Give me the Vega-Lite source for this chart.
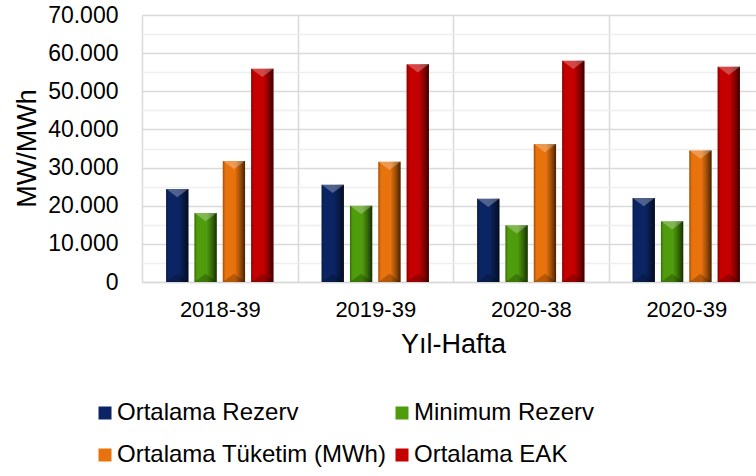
{
  "$schema": "https://vega.github.io/schema/vega-lite/v6.json",
  "autosize": "none",
  "padding": {"left": 142, "top": 15, "right": 0, "bottom": 194},
  "width": 614,
  "height": 267,
  "background": "white",
  "config": {
    "font": "Liberation Sans",
    "view": {"stroke": null},
    "axis": {"labelColor": "#000", "titleColor": "#000", "labelFont": "Liberation Sans", "titleFont": "Liberation Sans", "titleFontWeight": "normal"},
    "legend": {"labelFont": "Liberation Sans", "labelColor": "#000"}
  },
  "data": {
    "values": [
      {"hafta": "2018-39", "seri": "Ortalama Rezerv", "deger": 24400},
      {"hafta": "2018-39", "seri": "Minimum Rezerv", "deger": 18100},
      {"hafta": "2018-39", "seri": "Ortalama Tüketim (MWh)", "deger": 31700},
      {"hafta": "2018-39", "seri": "Ortalama EAK", "deger": 55900},
      {"hafta": "2019-39", "seri": "Ortalama Rezerv", "deger": 25500},
      {"hafta": "2019-39", "seri": "Minimum Rezerv", "deger": 20000},
      {"hafta": "2019-39", "seri": "Ortalama Tüketim (MWh)", "deger": 31500},
      {"hafta": "2019-39", "seri": "Ortalama EAK", "deger": 57100},
      {"hafta": "2020-38", "seri": "Ortalama Rezerv", "deger": 21800},
      {"hafta": "2020-38", "seri": "Minimum Rezerv", "deger": 14900},
      {"hafta": "2020-38", "seri": "Ortalama Tüketim (MWh)", "deger": 36200},
      {"hafta": "2020-38", "seri": "Ortalama EAK", "deger": 58000},
      {"hafta": "2020-39", "seri": "Ortalama Rezerv", "deger": 22000},
      {"hafta": "2020-39", "seri": "Minimum Rezerv", "deger": 15900},
      {"hafta": "2020-39", "seri": "Ortalama Tüketim (MWh)", "deger": 34500},
      {"hafta": "2020-39", "seri": "Ortalama EAK", "deger": 56400}
    ]
  },
  "encoding": {
    "x": {
      "field": "hafta", "type": "nominal", "sort": null,
      "scale": {"range": [0, 622], "paddingInner": 0, "paddingOuter": 0},
      "axis": {
        "title": "Yıl-Hafta", "titleFontSize": 27, "titleX": 311, "titleY": 70, "titleBaseline": "alphabetic",
        "labelAngle": 0, "labelFontSize": 22, "labelBaseline": "alphabetic", "labelPadding": 34,
        "ticks": false, "tickSize": 0, "tickBand": "extent",
        "grid": true, "gridColor": "#d9d9d9", "gridWidth": 1.5,
        "domain": true, "domainColor": "#d9d9d9", "domainWidth": 1.5
      }
    },
    "xOffset": {
      "field": "seri", "type": "nominal",
      "sort": ["Ortalama Rezerv", "Minimum Rezerv", "Ortalama Tüketim (MWh)", "Ortalama EAK"],
      "scale": {"paddingInner": 0.214, "paddingOuter": 0.85}
    },
    "y": {
      "field": "deger", "type": "quantitative",
      "scale": {"domain": [0, 70000], "nice": false},
      "axis": {
        "title": "MW/MWh", "titleFontSize": 27, "titleX": -107, "titleY": 133, "titleBaseline": "alphabetic", "titleAngle": -90,
        "values": [0, 5000, 10000, 15000, 20000, 25000, 30000, 35000, 40000, 45000, 50000, 55000, 60000, 65000, 70000],
        "labelExpr": "datum.value % 10000 === 0 ? replace(format(datum.value, ','), ',', '.') : ''",
        "labelFontSize": 23, "labelPadding": 24, "ticks": false, "tickSize": 0, "domain": false,
        "grid": true,
        "gridColor": {"condition": {"test": "datum.value % 10000 === 0", "value": "#d9d9d9"}, "value": "#eeeeee"},
        "gridWidth": 1.5
      }
    }
  },
  "layer": [
    {
      "mark": {"type": "bar"},
      "encoding": {
        "color": {
          "field": "seri", "type": "nominal",
          "scale": {
            "domain": ["Ortalama Rezerv", "Minimum Rezerv", "Ortalama Tüketim (MWh)", "Ortalama EAK"],
            "range": ["#0b2564", "#4f9c0c", "#e8720c", "#c40000"]
          },
          "legend": {
            "title": null, "orient": "none", "legendX": -49, "legendY": 386,
            "direction": "horizontal", "columns": 2, "columnPadding": 3, "rowPadding": 18, "padding": 0,
            "symbolType": "square", "symbolSize": 169, "symbolStrokeWidth": 0, "symbolOpacity": 1,
            "labelFontSize": 24, "labelOffset": 0, "labelLimit": 400
          }
        }
      }
    },
    {
      "mark": {
        "type": "bar",
        "color": {
          "gradient": "linear", "x1": 0, "x2": 1, "y1": 0, "y2": 0,
          "stops": [
            {"offset": 0, "color": "rgba(0,0,0,0.3)"},
            {"offset": 0.12, "color": "rgba(0,0,0,0)"},
            {"offset": 0.55, "color": "rgba(0,0,0,0)"},
            {"offset": 0.8, "color": "rgba(0,0,0,0.35)"},
            {"offset": 1, "color": "rgba(0,0,0,0.7)"}
          ]
        }
      },
      "encoding": {}
    },
    {
      "mark": {"type": "point", "shape": "M-1,0L1,0L0,0.75Z", "size": 484, "filled": true, "color": "white", "opacity": 0.28, "strokeWidth": 0},
      "encoding": {}
    },
    {
      "mark": {"type": "point", "shape": "M-1,0L1,0L0,-0.75Z", "size": 484, "filled": true, "color": "black", "opacity": 0.22, "strokeWidth": 0},
      "encoding": {"y": {"datum": 0, "type": "quantitative"}}
    }
  ]
}
